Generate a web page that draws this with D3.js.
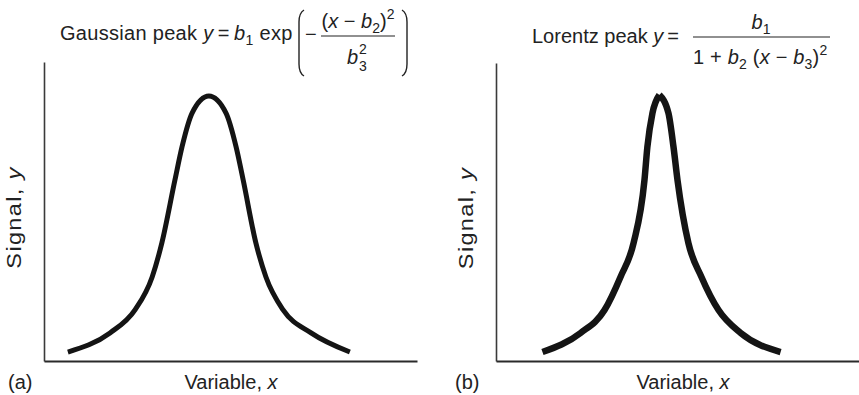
<!DOCTYPE html>
<html>
<head>
<meta charset="utf-8">
<script src="https://cdn.jsdelivr.net/npm/d3@7"></script>
<style>
  html, body { margin: 0; padding: 0; background: #fff; }
  svg { display: block; }
  text { font-family: "Liberation Sans", Arial, Helvetica, sans-serif; fill: #222; }
</style>
</head>
<body>
<script>
// Sampled signal profiles (arbitrary units, 0–10 on both axes)
const gaussX = [0.64, 1.77, 2.44, 2.90, 3.16, 3.51, 3.70, 3.97, 4.42, 4.88, 5.15, 5.34, 5.68, 5.95, 6.41, 7.16, 8.20];
const gaussY = [0.30, 0.94, 1.71, 2.81, 3.95, 6.05, 7.16, 8.29, 8.86, 8.29, 7.16, 6.05, 3.95, 2.81, 1.71, 0.94, 0.30];

const lorentzLeftX  = [1.28, 2.33, 2.99, 3.43, 3.79, 4.09, 4.17, 4.31, 4.50];
const lorentzLeftY  = [0.30, 0.94, 1.71, 2.82, 3.96, 6.07, 7.18, 8.32, 8.93];
const lorentzRightX = [4.50, 4.75, 4.89, 5.00, 5.30, 5.66, 6.13, 6.74, 7.84];
const lorentzRightY = [8.93, 8.32, 7.18, 6.07, 3.96, 2.82, 1.71, 0.94, 0.30];

const panelLetters = ["(a)", "(b)"];
const xLabel = "Variable, ";
const yLabel = "Signal, ";

const W = 859, H = 395;
const svg = d3.select("body").append("svg").attr("width", W).attr("height", H);

// Panel frames
const panels = [
  { x0: 44,  x1: 417, yTop: 62, yBot: 361, letterX: 8,   labelCX: 231, ylabX: 21 },
  { x0: 496, x1: 859, yTop: 63, yBot: 361, letterX: 455, labelCX: 683, ylabX: 473 }
];

panels.forEach(p => {
  p.x = d3.scaleLinear().domain([0, 10]).range([p.x0, p.x1]);
  p.y = d3.scaleLinear().domain([0, 10]).range([p.yBot, p.yTop]);
});

// Bare axes: no ticks, only the domain lines
panels.forEach(p => {
  svg.append("g")
    .attr("transform", `translate(${p.x0},0)`)
    .call(d3.axisLeft(p.y).tickValues([]).tickSizeOuter(0))
    .call(g => g.select(".domain").attr("stroke", "#3a3a3a").attr("stroke-width", 1.6));
  svg.append("g")
    .attr("transform", `translate(0,${p.yBot})`)
    .call(d3.axisBottom(p.x).tickValues([]).tickSizeOuter(0))
    .call(g => g.select(".domain").attr("stroke", "#2a2a2a").attr("stroke-width", 2));
});

// Axis labels and panel letters
panels.forEach((p, i) => {
  const xl = svg.append("text")
    .attr("x", p.labelCX).attr("y", 389)
    .attr("text-anchor", "middle").attr("font-size", 20);
  xl.append("tspan").text(xLabel);
  xl.append("tspan").attr("font-style", "italic").text("x");

  const yl = svg.append("text")
    .attr("transform", `translate(${p.ylabX},${(p.yTop + p.yBot) / 2 + 6}) rotate(-90) scale(1.12,1)`)
    .attr("text-anchor", "middle").attr("font-size", 21)
    .attr("letter-spacing", 1.2);
  yl.append("tspan").text(yLabel);
  yl.append("tspan").attr("font-style", "italic").text("y");

  svg.append("text")
    .attr("x", p.letterX).attr("y", 389)
    .attr("font-size", 20).text(panelLetters[i]);
});

// Curves
const zip = (xs, ys) => xs.map((v, i) => [v, ys[i]]);
function drawCurve(p, pts, width) {
  const line = d3.line()
    .x(d => p.x(d[0])).y(d => p.y(d[1]))
    .curve(d3.curveMonotoneX);
  svg.append("path")
    .attr("d", line(pts))
    .attr("fill", "none")
    .attr("stroke", "#141414")
    .attr("stroke-width", width)
    .attr("stroke-linecap", "butt")
    .attr("stroke-linejoin", "round");
}
drawCurve(panels[0], zip(gaussX, gaussY), 5);
drawCurve(panels[1], zip(lorentzLeftX, lorentzLeftY), 6.5);
drawCurve(panels[1], zip(lorentzRightX, lorentzRightY), 6.5);

// Inline math helper: parts are [string, kind] with kind r / i / sub / sup
function mathText(x, y, parts, anchor, size, spacing) {
  size = size || 20;
  const t = svg.append("text").attr("x", x).attr("y", y)
    .attr("text-anchor", anchor || "start").attr("font-size", size);
  if (spacing) t.attr("letter-spacing", spacing);
  let shift = 0;
  parts.forEach(([s, k]) => {
    const target = k === "sub" ? 5 : k === "sup" ? -9 : 0;
    const ts = t.append("tspan").text(s).attr("dy", target - shift);
    shift = target;
    if (k === "i") ts.attr("font-style", "italic");
    if (k === "sub" || k === "sup") ts.attr("font-size", size * 0.7);
  });
  return t;
}
function paren(x, top, bot, dir) {
  // dir = 1 opening, -1 closing
  const c = x + 5 * dir;
  svg.append("path")
    .attr("d", `M${c},${top} Q${x},${top + 3} ${x},${top + 12} L${x},${bot - 12} Q${x},${bot - 3} ${c},${bot}`)
    .attr("fill", "none").attr("stroke", "#222").attr("stroke-width", 1.4);
}

// Gaussian peak formula
mathText(60, 40, [["Gaussian peak ", "r"], ["y", "i"], ["\u2009=\u2009", "r"], ["b", "i"], ["1", "sub"], [" exp", "r"]], "start", 20, 0.3);
paren(299, 10, 76, 1);
mathText(305, 41, [["\u2212", "r"]]);
mathText(358, 28, [["(", "r"], ["x", "i"], [" \u2212 ", "r"], ["b", "i"], ["2", "sub"], [")", "r"], ["2", "sup"]], "middle");
svg.append("line").attr("x1", 321).attr("x2", 395).attr("y1", 36).attr("y2", 36)
  .attr("stroke", "#222").attr("stroke-width", 1.2);
mathText(347, 64, [["b", "i"]]);
mathText(359, 54, [["2", "r"]], "start", 14);
mathText(359, 71, [["3", "r"]], "start", 14);
paren(407, 10, 76, -1);

// Lorentz peak formula
mathText(532, 43, [["Lorentz peak ", "r"], ["y", "i"], ["\u2009=", "r"]]);
mathText(761, 29, [["b", "i"], ["1", "sub"]], "middle");
svg.append("line").attr("x1", 693).attr("x2", 830).attr("y1", 37).attr("y2", 37)
  .attr("stroke", "#222").attr("stroke-width", 1.2);
mathText(693, 64, [["1 + ", "r"], ["b", "i"], ["2", "sub"], [" (", "r"], ["x", "i"], [" \u2212 ", "r"], ["b", "i"], ["3", "sub"], [")", "r"], ["2", "sup"]], "start", 20, 0.2);
</script>
</body>
</html>
